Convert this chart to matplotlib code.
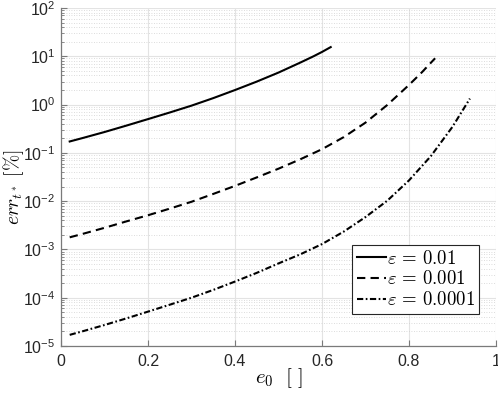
import numpy as np
import matplotlib
matplotlib.use('Agg')
import matplotlib.pyplot as plt
from matplotlib.font_manager import FontProperties
from matplotlib.ticker import LogLocator, FuncFormatter, NullFormatter

# values
e0_a = [0.02, 0.05, 0.1, 0.15, 0.2, 0.25, 0.3, 0.35, 0.4, 0.45, 0.5, 0.55,
        0.58, 0.6, 0.62]
err_a = [0.172, 0.203, 0.27, 0.366, 0.50, 0.685, 0.95, 1.36, 2.0, 2.99, 4.6,
         7.4, 9.95, 12.3, 15.5]

e0_b = [0.02, 0.05, 0.1, 0.15, 0.2, 0.25, 0.3, 0.35, 0.4, 0.45, 0.5, 0.55,
        0.6, 0.65, 0.7, 0.75, 0.8, 0.83, 0.86]
err_b = [0.00178, 0.0021, 0.0028, 0.0038, 0.0051, 0.0070, 0.0097, 0.0141,
         0.0207, 0.031, 0.047, 0.0735, 0.119, 0.212, 0.423, 0.98, 2.55, 4.7, 9.1]

e0_c = [0.02, 0.05, 0.1, 0.15, 0.2, 0.25, 0.3, 0.35, 0.4, 0.45, 0.5, 0.55,
        0.6, 0.65, 0.7, 0.75, 0.8, 0.85, 0.9, 0.94]
err_c = [1.7e-5, 2.02e-5, 2.72e-5, 3.72e-5, 5.15e-5, 7.16e-5, 1.0e-4, 1.45e-4,
         2.16e-4, 3.27e-4, 5.13e-4, 7.9e-4, 1.29e-3, 2.34e-3, 4.68e-3, 1.02e-2,
         2.69e-2, 8.5e-2, 0.347, 1.33]

labels = [r'$\varepsilon\,=\,0.01$', r'$\varepsilon\,=\,0.001$', r'$\varepsilon\,=\,0.0001$']

plt.rcParams['font.family'] = ['Liberation Sans', 'DejaVu Sans']
plt.rcParams['mathtext.fontset'] = 'custom'
plt.rcParams['mathtext.rm'] = 'Liberation Sans'
plt.rcParams['mathtext.it'] = 'Liberation Sans:italic'
plt.rcParams['mathtext.bf'] = 'Liberation Sans:bold'

fig = plt.figure(figsize=(4.98, 3.96), dpi=100)
ax = fig.add_axes([0.1225, 0.1263, 0.8735, 0.8535])

ax.plot(e0_a, err_a, color='k', lw=1.5, ls='-', label=labels[0])
ax.plot(e0_b, err_b, color='k', lw=1.5, ls=(0, (4, 2.5)), label=labels[1])
ax.plot(e0_c, err_c, color='k', lw=1.5, ls=(0, (3, 1.2, 0.8, 1.2)), label=labels[2])

ax.set_yscale('log')
ax.set_xlim(0, 1)
ax.set_ylim(1e-5, 1e2)
ax.set_xticks([0, 0.2, 0.4, 0.6, 0.8, 1])
ax.set_xticklabels(['0', '0.2', '0.4', '0.6', '0.8', '1'])
ax.yaxis.set_major_locator(LogLocator(base=10, numticks=20))
ax.yaxis.set_minor_locator(LogLocator(base=10, subs=np.arange(2, 10), numticks=20))
ax.yaxis.set_major_formatter(FuncFormatter(lambda v, p: r'$10^{%d}$' % round(np.log10(v))))
ax.yaxis.set_minor_formatter(NullFormatter())

ax.grid(True, which='major', color='#e3e3e3', lw=0.8)
ax.grid(True, which='minor', axis='y', color='#d0d0d0', lw=0.6, ls=(0, (1, 2)))
ax.set_axisbelow(True)

for s in ['top', 'right']:
    ax.spines[s].set_visible(False)
for s in ['left', 'bottom']:
    ax.spines[s].set_color('#7a7a7a')
    ax.spines[s].set_linewidth(0.9)

ax.tick_params(which='both', direction='in', colors='#7a7a7a', labelcolor='#262626',
               labelsize=11.5)
ax.tick_params(which='major', length=4)
ax.tick_params(which='minor', length=2)
ax.tick_params(axis='x', pad=6)
ax.tick_params(axis='y', pad=4)

ax.set_xlabel(r'$e_0\ \ [\ ]$', fontsize=15, math_fontfamily='cm')
ax.set_ylabel(r'$err_{t^*}\ [\%]$', fontsize=14, math_fontfamily='cm')
ax.xaxis.set_label_coords(0.5, -0.06)
ax.yaxis.set_label_coords(-0.081, 0.47)

leg = ax.legend(loc='upper left', bbox_to_anchor=(0.669, 0.299),
                prop=FontProperties(size=13.5, math_fontfamily='cm'),
                fancybox=False, framealpha=1, edgecolor='#262626',
                handlelength=1.55, handletextpad=0.05, borderpad=0.25,
                labelspacing=0.15, borderaxespad=0)
leg.get_frame().set_linewidth(0.8)

fig.savefig('out.png', dpi=100)
